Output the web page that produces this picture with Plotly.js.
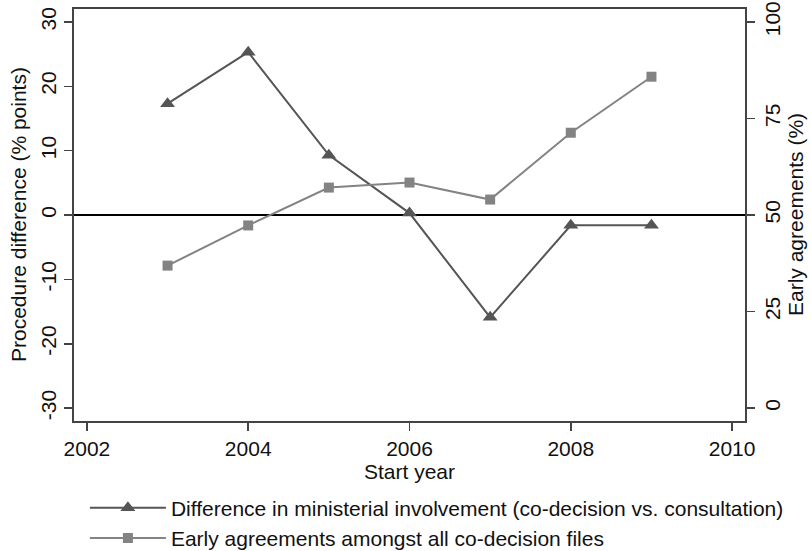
<!DOCTYPE html>
<html>
<head>
<meta charset="utf-8">
<script src="https://cdn.plot.ly/plotly-3.0.1.min.js"></script>
<style>
html,body{margin:0;padding:0;background:#fff;}
#chart{width:811px;height:551px;}
</style>
</head>
<body>
<div id="chart"></div>
<script>
var years = [2003, 2004, 2005, 2006, 2007, 2008, 2009];
var ministerialDiff = [17.3, 25.3, 9.3, 0.3, -15.9, -1.6, -1.6];
var earlyAgreements = [36.9, 47.3, 57.1, 58.4, 54.0, 71.3, 85.8];
var xTicks = [2002, 2004, 2006, 2008, 2010];
var leftTicks = [-30, -20, -10, 0, 10, 20, 30];
var rightTicks = [0, 25, 50, 75, 100];
var seriesNames = [
  "Difference in ministerial involvement (co-decision vs. consultation)",
  "Early agreements amongst all co-decision files"
];
var xTitle = "Start year";
var leftTitle = "Procedure difference (% points)";
var rightTitle = "Early agreements (%)";

var font = "Liberation Sans, Arial, Helvetica, sans-serif";
var fs = 21;

var traces = [
  {
    x: years, y: ministerialDiff, name: seriesNames[0],
    type: "scatter", mode: "lines+markers",
    line: {color: "#555555", width: 2},
    marker: {symbol: "triangle-up", size: 13, color: "#555555"},
    yaxis: "y"
  },
  {
    x: years, y: earlyAgreements, name: seriesNames[1],
    type: "scatter", mode: "lines+markers",
    line: {color: "#838383", width: 2},
    marker: {symbol: "square", size: 10, color: "#838383"},
    yaxis: "y2"
  }
];

var layout = {
  width: 811, height: 551,
  margin: {l: 74, r: 66, t: 9, b: 130, autoexpand: false},
  paper_bgcolor: "#ffffff", plot_bgcolor: "#ffffff",
  font: {family: font, size: fs, color: "#111111"},
  showlegend: true,
  legend: {
    xref: "container", yref: "container",
    x: 0.1047, xanchor: "left", y: 0.115, yanchor: "top",
    orientation: "v", itemwidth: 76,
    font: {family: font, size: fs, color: "#111111"},
    bgcolor: "rgba(0,0,0,0)", tracegroupgap: 0
  },
  xaxis: {
    range: [2001.84, 2010.16], tickvals: xTicks, ticktext: xTicks.map(String),
    showgrid: false, zeroline: false,
    showline: true, linecolor: "#444444", linewidth: 2, mirror: true,
    ticks: "outside", ticklen: 8, tickwidth: 1.5, tickcolor: "#444444",
    title: {text: xTitle, font: {family: font, size: fs}, standoff: 0},
    tickfont: {family: font, size: fs}
  },
  yaxis: {
    range: [-32, 32], tickvals: leftTicks, ticktext: leftTicks.map(String),
    showgrid: false, zeroline: true, zerolinecolor: "#000000", zerolinewidth: 2,
    showline: true, linecolor: "#444444", linewidth: 2,
    ticks: "outside", ticklen: 8, tickwidth: 1.5, tickcolor: "#444444",
    tickangle: -90,
    tickfont: {family: font, size: fs}
  },
  yaxis2: {
    overlaying: "y", side: "right",
    range: [-10/3, 310/3], tickvals: rightTicks, ticktext: rightTicks.map(String),
    showgrid: false, zeroline: false,
    showline: true, linecolor: "#444444", linewidth: 2,
    ticks: "outside", ticklen: 8, tickwidth: 1.5, tickcolor: "#444444",
    tickangle: -90,
    tickfont: {family: font, size: fs}
  },
  annotations: [
    {text: leftTitle, xref: "paper", yref: "paper", x: 0, y: 0.5,
     xshift: -56, xanchor: "center", yanchor: "middle", textangle: -90,
     showarrow: false, font: {family: font, size: fs, color: "#111111"}},
    {text: rightTitle, xref: "paper", yref: "paper", x: 1, y: 0.5,
     xshift: 50, xanchor: "center", yanchor: "middle", textangle: -90,
     showarrow: false, font: {family: font, size: fs, color: "#111111"}}
  ]
};

Plotly.newPlot("chart", traces, layout, {displayModeBar: false, staticPlot: true});
</script>
</body>
</html>
